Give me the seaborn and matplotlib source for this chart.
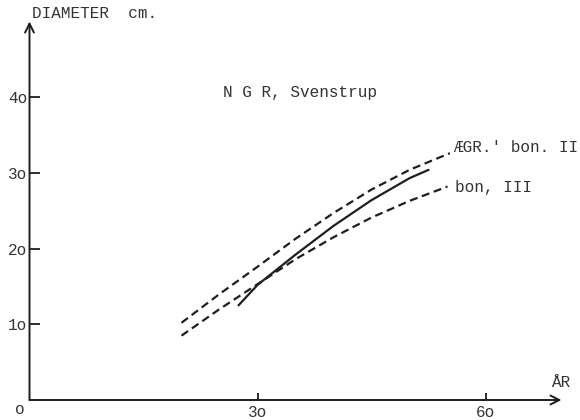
##----------- Import packages --------------##
import matplotlib
matplotlib.use("Agg")
import matplotlib.pyplot as plt
import seaborn as sns
import pandas as pd

##----------- Data ----------------------------------##
years_ii = [20, 25, 30, 35, 40, 45, 50, 55.3]
diam_ii = [10.2, 14.0, 17.6, 21.3, 24.7, 27.8, 30.4, 32.6]
years_iii = [20, 25, 30, 35, 40, 45, 50, 55]
diam_iii = [8.5, 12.0, 15.3, 18.6, 21.5, 24.1, 26.3, 28.2]
years_ngr = [27.5, 30, 35, 40, 45, 50, 52.5]
diam_ngr = [12.5, 15.2, 19.2, 23.0, 26.4, 29.3, 30.4]

y_ticks = [10, 20, 30, 40]
y_ticklabels = ['1o', '2o', '3o', '4o']
x_ticks = [30, 60]
x_ticklabels = ['3o', '6o']

label_ii = "ÆGR.' bon. II"
label_iii = "bon, III"
label_ngr = "N G R, Svenstrup"

##----------- Plot --------------##
sns.set_style("white")
plt.rcParams['font.family'] = ['Liberation Mono', 'DejaVu Sans Mono']
ink = '#1e1e1e'
txt = '#333333'
fs = 11.5

data = pd.concat([
    pd.DataFrame({'year': years_ii, 'diameter': diam_ii, 'curve': 'II'}),
    pd.DataFrame({'year': years_iii, 'diameter': diam_iii, 'curve': 'III'}),
    pd.DataFrame({'year': years_ngr, 'diameter': diam_ngr, 'curve': 'NGR'}),
], ignore_index=True)

fig = plt.figure(figsize=(5.8, 4.2), dpi=100)
ax = fig.add_axes([29.5/580, 20/420, 532/580, 378.5/420])

sns.lineplot(data=data, x='year', y='diameter', hue='curve', style='curve',
             palette={'II': ink, 'III': ink, 'NGR': ink},
             dashes={'II': (3.6, 2.1), 'III': (3.6, 2.1), 'NGR': ''},
             linewidth=1.6, estimator=None, legend=False, ax=ax)

ax.set_xlim(0, 70)
ax.set_ylim(0, 50)
for s in ax.spines.values():
    s.set_visible(False)

# axes drawn as arrows
arrow = dict(arrowstyle='->', lw=1.4, color=ink, mutation_scale=16, shrinkA=0, shrinkB=0)
ax.annotate('', xy=(70, 0), xytext=(0, 0), arrowprops=arrow, annotation_clip=False)
ax.annotate('', xy=(0, 50), xytext=(0, 0), arrowprops=arrow, annotation_clip=False)

ax.set_yticks(y_ticks)
ax.set_yticklabels(y_ticklabels)
ax.set_xticks(x_ticks)
ax.set_xticklabels(x_ticklabels)
ax.tick_params(axis='y', left=True, direction='in', length=7, width=1.3, pad=1.5,
               colors=ink, labelcolor=txt, labelsize=fs)
ax.tick_params(axis='x', bottom=True, direction='in', length=5, width=1.3, pad=3.5,
               colors=ink, labelcolor=txt, labelsize=fs)
ax.set_xlabel('')
ax.set_ylabel('')

ax.text(-1.25, -1.3, 'o', ha='center', va='center', fontsize=fs, color=txt, clip_on=False)
ax.text(0.3, 51.1, 'DIAMETER  cm.', ha='left', va='center', fontsize=fs, color=txt, clip_on=False)
ax.text(68.6, 2.3, 'ÅR', ha='left', va='center', fontsize=fs, color=txt, clip_on=False)
ax.text(25.5, 40.6, label_ngr, ha='left', va='center', fontsize=fs, color=txt)
ax.text(55.7, 33.3, label_ii, ha='left', va='center', fontsize=fs, color=txt, clip_on=False)
ax.text(56.0, 28.1, label_iii, ha='left', va='center', fontsize=fs, color=txt, clip_on=False)

plt.savefig('out.png', dpi=100)
plt.close()
